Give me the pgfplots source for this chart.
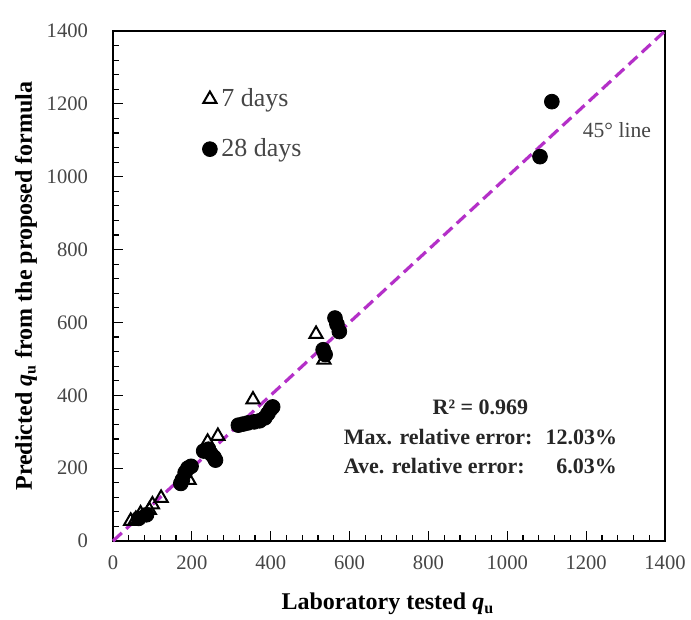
\documentclass[border=0pt]{standalone}
\usepackage{pgfplots}
\pgfplotsset{compat=1.18}
\usepackage{fontspec}
\setmainfont{Liberation Serif}
\definecolor{diag}{RGB}{180,48,200}
\definecolor{ticktext}{RGB}{70,70,70}

\begin{document}
\begin{tikzpicture}
\begin{axis}[
  name=ax,
  scale only axis,
  width=276pt, height=255pt,
  xmin=0, xmax=1400, ymin=0, ymax=1400,
  xtick={0,200,...,1400}, ytick={0,200,...,1400},
  minor tick num=4,
  xtick pos=bottom, ytick pos=left,
  tick align=inside,
  major tick length=5pt, minor tick length=3pt,
  axis line style={line width=0.8pt},
  every tick/.style={black, line width=0.6pt},
  tick label style={font=\fontsize{10.3}{12}\selectfont, text=ticktext},
  yticklabel style={xshift=-9pt},
  xticklabel style={yshift=-4pt},
  /pgf/number format/assume math mode=true,
  /pgf/number format/set thousands separator={},
  xlabel={\textbf{Laboratory tested \textit{q}\textsubscript{u}}},
  ylabel={\textbf{Predicted \textit{q}\textsubscript{u} from the proposed formula}},
  label style={font=\fontsize{12}{14}\selectfont},
  xlabel style={anchor=center, at={(axis description cs:0.498,-0.1235)}},
  ylabel style={anchor=center, at={(axis description cs:-0.1576,0.5)}},
  legend style={at={(axis cs:226,1254)}, anchor=north west, draw=none, fill=none,
    font=\fontsize{13}{15}\selectfont, row sep=10.5pt, inner sep=0pt,
    cells={anchor=west}, text=ticktext},
  clip=false,
]
% 45 degree reference line
\addplot[diag, dashed, line width=1.6pt, dash pattern=on 6pt off 3pt, forget plot]
  coordinates {(0,0) (1400,1400)};

% 7-day specimens
\addplot[only marks, mark=triangle, mark size=3.8pt, mark options={line width=1pt, fill=white, draw=black}]
  coordinates {
  (45,55) (58,60) (70,75) (92,85) (100,100) (122,118) (193,167)
  (240,272) (266,288) (355,388) (515,568) (535,497)
  };
\addlegendentry{7 days}

% 28-day specimens
\addplot[only marks, mark=*, mark size=3.7pt, mark options={fill=black, draw=black}]
  coordinates {
  (65,62) (85,72)
  (172,158) (176,168) (183,188) (190,200) (198,205)
  (230,247) (242,252) (248,240) (256,230) (260,222)
  (318,318) (330,321) (342,324) (358,327) (372,330) (385,338) (393,350) (400,362) (405,368)
  (533,525) (538,512)
  (563,612) (568,595) (574,575)
  (1083,1055) (1113,1206)
  };
\addlegendentry{28 days}

\node[font=\fontsize{10.8}{12}\selectfont, text=ticktext] at (axis cs:1278,1128) {45° line};
\node[font=\bfseries\fontsize{11}{13}\selectfont, text=black!85] at (axis cs:932,282)
  {\renewcommand\arraystretch{1.12}%
   \begin{tabular}{@{}l@{\hspace{6.5pt}}r@{}}
   \multicolumn{2}{c}{R² = 0.969}\\
   Max. relative error: & 12.03\%\\
   Ave. relative error: & 6.03\%
   \end{tabular}};
\end{axis}
\pgfresetboundingbox
\path ([shift={(-56.5pt,-39.5pt)}]ax.south west) rectangle ([shift={(13pt,15.5pt)}]ax.north east);
\end{tikzpicture}
\end{document}
